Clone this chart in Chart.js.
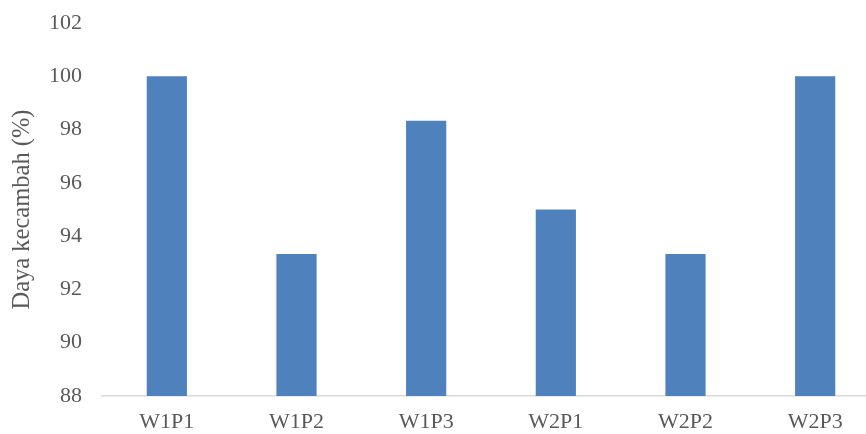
<!DOCTYPE html>
<html>
<head>
<meta charset="utf-8">
<script src="https://cdn.jsdelivr.net/npm/chart.js@4/dist/chart.umd.min.js"></script>
<style>
  html, body { margin: 0; padding: 0; background: #fff; overflow: hidden; }
  #wrap { position: relative; width: 880px; height: 434px; }
</style>
</head>
<body>
<div id="wrap"><canvas id="chart"></canvas></div>
<script>
// Germination rate per treatment
const categories = ['W1P1', 'W1P2', 'W1P3', 'W2P1', 'W2P2', 'W2P3'];
const germination = [100, 93.33, 98.33, 95, 93.33, 100];
const yTicks = [88, 90, 92, 94, 96, 98, 100, 102];
const yTitle = 'Daya kecambah (%)';

const fontFamily = '"Liberation Serif", "Times New Roman", serif';
const textColor = '#595959';

new Chart(document.getElementById('chart'), {
  type: 'bar',
  data: {
    labels: categories,
    datasets: [{
      data: germination,
      backgroundColor: '#4F81BD',
      borderWidth: 0,
      categoryPercentage: 1,
      barPercentage: 0.31
    }]
  },
  options: {
    responsive: true,
    maintainAspectRatio: false,
    animation: false,
    layout: { padding: { top: 23, left: 0, right: 0, bottom: 0 } },
    plugins: { legend: { display: false }, tooltip: { enabled: false } },
    scales: {
      x: {
        grid: { display: false, drawTicks: false },
        border: { display: true, color: '#d9d9d9', width: 1.5 },
        ticks: { color: textColor, font: { family: fontFamily, size: 22 }, padding: 13 },
        afterFit: s => { s.height = 38; s.paddingLeft = 0; s.paddingRight = 0; }
      },
      y: {
        min: yTicks[0],
        max: yTicks[yTicks.length - 1],
        afterBuildTicks: s => { s.ticks = yTicks.map(v => ({ value: v })); },
        grid: { display: false, drawTicks: false },
        border: { display: false },
        ticks: { color: textColor, font: { family: fontFamily, size: 22 }, padding: 20 },
        title: {
          display: true,
          text: yTitle,
          color: textColor,
          font: { family: fontFamily, size: 24.5 },
          padding: { top: 8, bottom: 0 }
        },
        afterFit: s => { s.width = 102; s.paddingTop = 0; s.paddingBottom = 0; }
      }
    }
  }
});
</script>
</body>
</html>
